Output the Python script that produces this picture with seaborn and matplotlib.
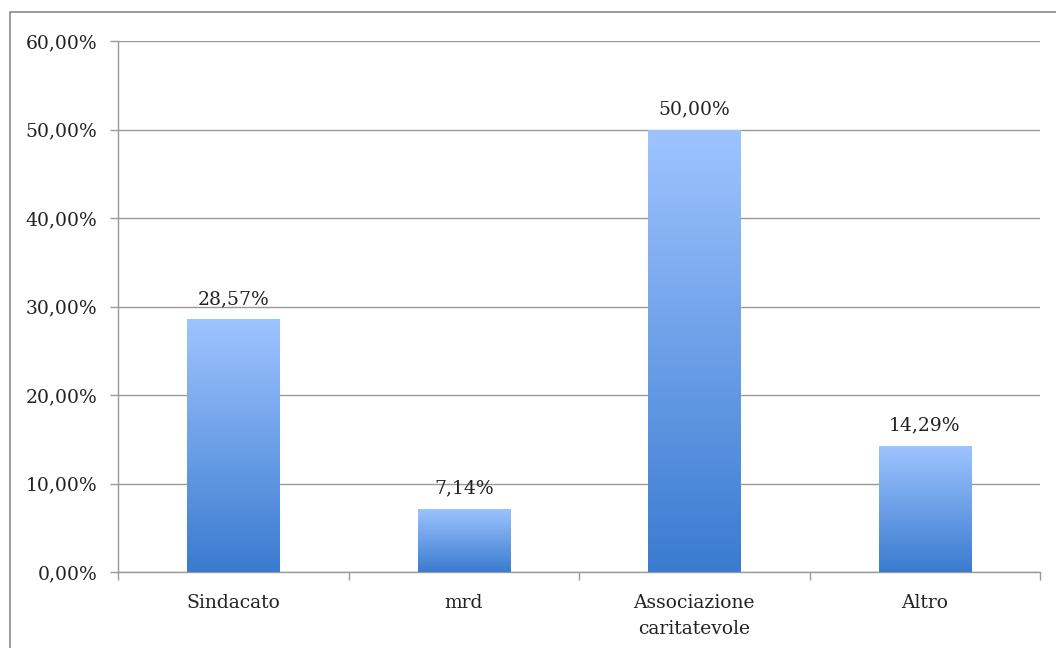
import numpy as np
import pandas as pd
import seaborn as sns
import matplotlib.pyplot as plt
from matplotlib.patches import Rectangle
from matplotlib.ticker import FuncFormatter
from matplotlib.colors import LinearSegmentedColormap

# Data
categories = ['Sindacato', 'mrd', 'Associazione\ncaritatevole', 'Altro']
values = [28.57, 7.14, 50.00, 14.29]
value_labels = ['28,57%', '7,14%', '50,00%', '14,29%']

df = pd.DataFrame({'categoria': categories, 'percentuale': values})

sns.set_theme(style='white')
plt.rcParams['font.family'] = ['DejaVu Serif']

fig = plt.figure(figsize=(10.56, 6.48), dpi=100)
ax = fig.add_axes([118 / 1056, 1 - 572 / 648, (1040 - 118) / 1056, (572 - 41) / 648])

sns.barplot(data=df, x='categoria', y='percentuale', color='#5b8fe0', width=0.4, ax=ax, zorder=3)

# vertical gradient fill for each bar
grad = np.linspace(0, 1, 256).reshape(-1, 1)
cmap = LinearSegmentedColormap.from_list('barblue', ['#3a7bd0', '#9ec4ff'])
for p in ax.patches:
    x0, y0 = p.get_x(), p.get_y()
    w, h = p.get_width(), p.get_height()
    im = ax.imshow(grad, cmap=cmap, aspect='auto', origin='lower',
                   extent=[x0, x0 + w, y0, y0 + h], zorder=3)
    im.set_clip_path(p)
    p.set_facecolor('none')
    p.set_edgecolor('none')

for i, (v, lab) in enumerate(zip(values, value_labels)):
    ax.annotate(lab, (i, v), xytext=(0, 8), textcoords='offset points',
                ha='center', va='bottom', fontsize=13.5, color='#222222')

ax.set_xlim(-0.5, 3.5)
ax.set_ylim(0, 60)
ax.set_yticks(np.arange(0, 61, 10))
ax.yaxis.set_major_formatter(FuncFormatter(lambda v, _: f'{v:.2f}%'.replace('.', ',')))
ax.set_xticks(range(len(categories)))
ax.set_xticklabels(categories, linespacing=1.55)
ax.set_xticks([-0.5, 0.5, 1.5, 2.5, 3.5], minor=True)

ax.grid(axis='y', color='#999999', linewidth=1, zorder=0)
ax.set_axisbelow(True)
for s in ['top', 'right']:
    ax.spines[s].set_visible(False)
for s in ['left', 'bottom']:
    ax.spines[s].set_color('#999999')
    ax.spines[s].set_linewidth(1)

ax.tick_params(axis='y', which='major', direction='out', length=6, width=1, color='#999999',
               labelsize=13.5, labelcolor='#222222', pad=9, left=True)
ax.tick_params(axis='x', which='major', length=0, labelsize=13.5, labelcolor='#222222', pad=16)
ax.tick_params(axis='x', which='minor', direction='out', length=6, width=1, color='#999999', bottom=True)
ax.set_xlabel('')
ax.set_ylabel('')

# outer frame of the chart area
fig.add_artist(Rectangle((10 / 1056, -0.1), 1.2, 1 - 12 / 648 + 0.1, transform=fig.transFigure,
                         fill=False, edgecolor='#8a8a8a', linewidth=1.2))

fig.savefig('out.png', dpi=100)
